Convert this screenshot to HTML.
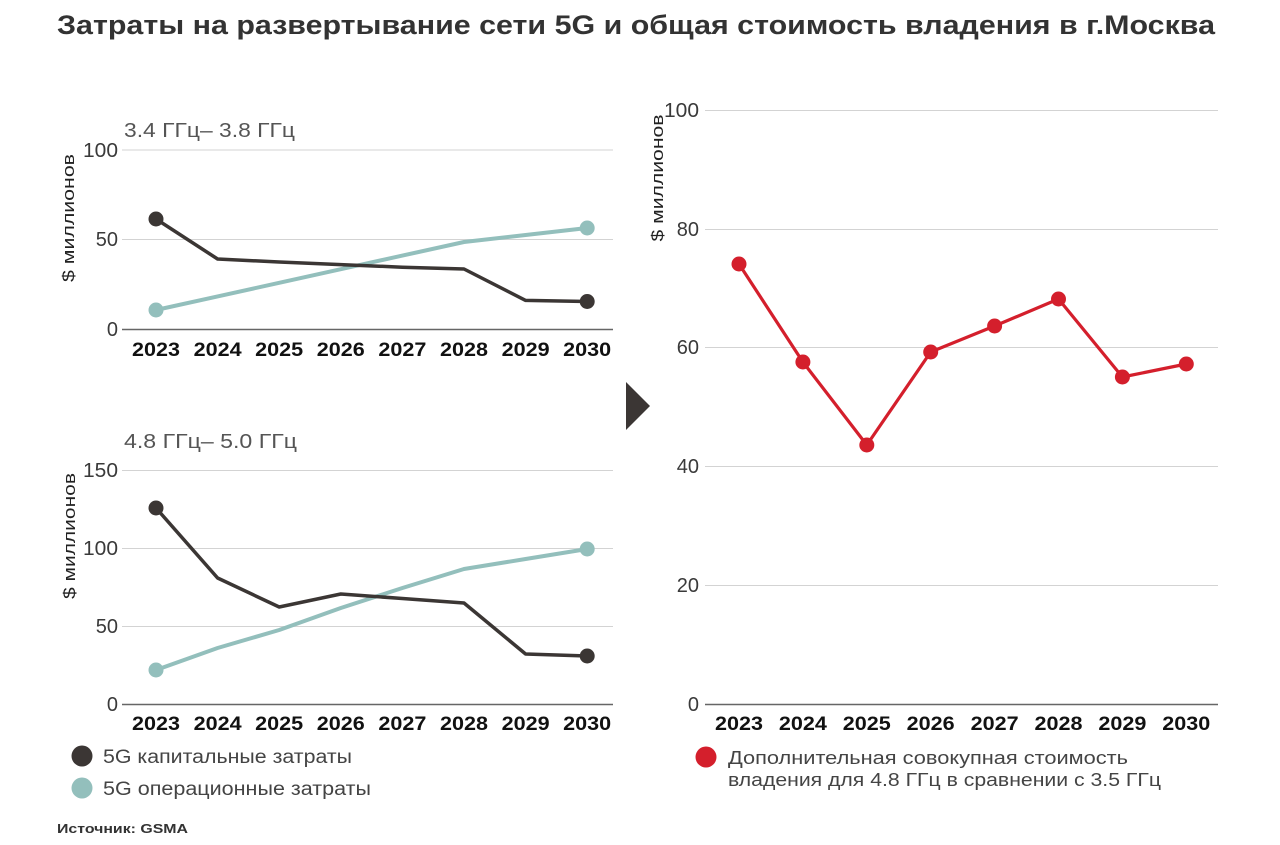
<!DOCTYPE html>
<html>
<head>
<meta charset="utf-8">
<style>
  html,body{margin:0;padding:0;background:#fff;}
  svg{display:block;}
  text{font-family:"Liberation Sans","Noto Sans CJK SC",sans-serif;}
</style>
</head>
<body>
<svg width="1280" height="845" viewBox="0 0 1280 845" xmlns="http://www.w3.org/2000/svg">
  <rect width="1280" height="845" fill="#fff"/>

  <!-- Title -->
  <text x="57" y="34" font-size="27" font-weight="bold" fill="#333" textLength="1158" lengthAdjust="spacingAndGlyphs">Затраты на развертывание сети 5G и общая стоимость владения в г.Москва</text>

  <!-- ============ TOP LEFT CHART ============ -->
  <text x="124" y="137" font-size="20" fill="#555" textLength="171" lengthAdjust="spacingAndGlyphs">3.4 ГГц– 3.8 ГГц</text>
  <g stroke="#d3d3d3" stroke-width="1">
    <line x1="122" y1="150" x2="613" y2="150"/>
    <line x1="122" y1="239.5" x2="613" y2="239.5"/>
  </g>
  <line x1="122" y1="329.5" x2="613" y2="329.5" stroke="#666" stroke-width="1.5"/>
  <g font-size="20" fill="#3a3a3a" text-anchor="end">
    <text x="118" y="157" textLength="35" lengthAdjust="spacingAndGlyphs">100</text>
    <text x="118" y="246">50</text>
    <text x="118" y="336">0</text>
  </g>
  <text transform="translate(74,218) rotate(-90)" font-size="17" fill="#222" text-anchor="middle" textLength="128" lengthAdjust="spacingAndGlyphs">$ миллионов</text>
  <g font-size="19" font-weight="bold" fill="#111" text-anchor="middle">
    <text x="156" y="356" textLength="48" lengthAdjust="spacingAndGlyphs">2023</text>
    <text x="217.6" y="356" textLength="48" lengthAdjust="spacingAndGlyphs">2024</text>
    <text x="279.2" y="356" textLength="48" lengthAdjust="spacingAndGlyphs">2025</text>
    <text x="340.8" y="356" textLength="48" lengthAdjust="spacingAndGlyphs">2026</text>
    <text x="402.4" y="356" textLength="48" lengthAdjust="spacingAndGlyphs">2027</text>
    <text x="464" y="356" textLength="48" lengthAdjust="spacingAndGlyphs">2028</text>
    <text x="525.6" y="356" textLength="48" lengthAdjust="spacingAndGlyphs">2029</text>
    <text x="587.2" y="356" textLength="48" lengthAdjust="spacingAndGlyphs">2030</text>
  </g>
  <polyline fill="none" stroke="#93bfbc" stroke-width="4" stroke-linejoin="round"
    points="156,310 217.6,296.4 279.2,282.8 340.8,269.2 402.4,255.6 464,242 525.6,235 587.2,228"/>
  <circle cx="156" cy="310" r="7.5" fill="#93bfbc"/>
  <circle cx="587.2" cy="228" r="7.5" fill="#93bfbc"/>
  <polyline fill="none" stroke="#3b3634" stroke-width="3.5" stroke-linejoin="round"
    points="156,219 217.6,259 279.2,262 340.8,264.6 402.4,267.2 464,269 525.6,300.4 587.2,301.5"/>
  <circle cx="156" cy="219" r="7.5" fill="#3b3634"/>
  <circle cx="587.2" cy="301.5" r="7.5" fill="#3b3634"/>

  <!-- ============ BOTTOM LEFT CHART ============ -->
  <text x="124" y="448" font-size="20" fill="#555" textLength="173" lengthAdjust="spacingAndGlyphs">4.8 ГГц– 5.0 ГГц</text>
  <g stroke="#d3d3d3" stroke-width="1">
    <line x1="122" y1="470.5" x2="613" y2="470.5"/>
    <line x1="122" y1="548.5" x2="613" y2="548.5"/>
    <line x1="122" y1="626.5" x2="613" y2="626.5"/>
  </g>
  <line x1="122" y1="704.5" x2="613" y2="704.5" stroke="#666" stroke-width="1.5"/>
  <g font-size="20" fill="#3a3a3a" text-anchor="end">
    <text x="118" y="477" textLength="35" lengthAdjust="spacingAndGlyphs">150</text>
    <text x="118" y="555" textLength="35" lengthAdjust="spacingAndGlyphs">100</text>
    <text x="118" y="633">50</text>
    <text x="118" y="711">0</text>
  </g>
  <text transform="translate(75,536) rotate(-90)" font-size="17" fill="#222" text-anchor="middle" textLength="126" lengthAdjust="spacingAndGlyphs">$ миллионов</text>
  <g font-size="19" font-weight="bold" fill="#111" text-anchor="middle">
    <text x="156" y="730" textLength="48" lengthAdjust="spacingAndGlyphs">2023</text>
    <text x="217.6" y="730" textLength="48" lengthAdjust="spacingAndGlyphs">2024</text>
    <text x="279.2" y="730" textLength="48" lengthAdjust="spacingAndGlyphs">2025</text>
    <text x="340.8" y="730" textLength="48" lengthAdjust="spacingAndGlyphs">2026</text>
    <text x="402.4" y="730" textLength="48" lengthAdjust="spacingAndGlyphs">2027</text>
    <text x="464" y="730" textLength="48" lengthAdjust="spacingAndGlyphs">2028</text>
    <text x="525.6" y="730" textLength="48" lengthAdjust="spacingAndGlyphs">2029</text>
    <text x="587.2" y="730" textLength="48" lengthAdjust="spacingAndGlyphs">2030</text>
  </g>
  <polyline fill="none" stroke="#93bfbc" stroke-width="4" stroke-linejoin="round"
    points="156,670 217.6,648 279.2,630 340.8,608 402.4,588 464,569 525.6,559 587.2,549"/>
  <circle cx="156" cy="670" r="7.5" fill="#93bfbc"/>
  <circle cx="587.2" cy="549" r="7.5" fill="#93bfbc"/>
  <polyline fill="none" stroke="#3b3634" stroke-width="3.5" stroke-linejoin="round"
    points="156,508 217.6,578 279.2,607 340.8,594 402.4,598.5 464,603 525.6,654 587.2,656"/>
  <circle cx="156" cy="508" r="7.5" fill="#3b3634"/>
  <circle cx="587.2" cy="656" r="7.5" fill="#3b3634"/>

  <!-- Left legend -->
  <circle cx="82" cy="756" r="10.5" fill="#3b3634"/>
  <text x="103" y="763" font-size="19" fill="#444" textLength="249" lengthAdjust="spacingAndGlyphs">5G капитальные затраты</text>
  <circle cx="82" cy="788" r="10.5" fill="#93bfbc"/>
  <text x="103" y="795" font-size="19" fill="#444" textLength="268" lengthAdjust="spacingAndGlyphs">5G операционные затраты</text>

  <text x="57" y="833" font-size="13" font-weight="bold" fill="#333" textLength="131" lengthAdjust="spacingAndGlyphs">Источник: GSMA</text>

  <!-- Arrow -->
  <polygon points="626,382 650,406 626,430" fill="#3b3634"/>

  <!-- ============ RIGHT CHART ============ -->
  <g stroke="#d3d3d3" stroke-width="1">
    <line x1="705" y1="110.5" x2="1218" y2="110.5"/>
    <line x1="705" y1="229.5" x2="1218" y2="229.5"/>
    <line x1="705" y1="347.5" x2="1218" y2="347.5"/>
    <line x1="705" y1="466.5" x2="1218" y2="466.5"/>
    <line x1="705" y1="585.5" x2="1218" y2="585.5"/>
  </g>
  <line x1="705" y1="704.5" x2="1218" y2="704.5" stroke="#666" stroke-width="1.5"/>
  <g font-size="20" fill="#3a3a3a" text-anchor="end">
    <text x="699" y="117" textLength="35" lengthAdjust="spacingAndGlyphs">100</text>
    <text x="699" y="236">80</text>
    <text x="699" y="354">60</text>
    <text x="699" y="473">40</text>
    <text x="699" y="592">20</text>
    <text x="699" y="711">0</text>
  </g>
  <text transform="translate(663,178) rotate(-90)" font-size="17" fill="#222" text-anchor="middle" textLength="127" lengthAdjust="spacingAndGlyphs">$ миллионов</text>
  <g font-size="19" font-weight="bold" fill="#111" text-anchor="middle">
    <text x="739" y="730" textLength="48" lengthAdjust="spacingAndGlyphs">2023</text>
    <text x="802.9" y="730" textLength="48" lengthAdjust="spacingAndGlyphs">2024</text>
    <text x="866.8" y="730" textLength="48" lengthAdjust="spacingAndGlyphs">2025</text>
    <text x="930.7" y="730" textLength="48" lengthAdjust="spacingAndGlyphs">2026</text>
    <text x="994.6" y="730" textLength="48" lengthAdjust="spacingAndGlyphs">2027</text>
    <text x="1058.5" y="730" textLength="48" lengthAdjust="spacingAndGlyphs">2028</text>
    <text x="1122.4" y="730" textLength="48" lengthAdjust="spacingAndGlyphs">2029</text>
    <text x="1186.3" y="730" textLength="48" lengthAdjust="spacingAndGlyphs">2030</text>
  </g>
  <polyline fill="none" stroke="#d41f2c" stroke-width="3.2" stroke-linejoin="round"
    points="739,264 802.9,362 866.8,445 930.7,352 994.6,326 1058.5,299 1122.4,377 1186.3,364"/>
  <g fill="#d41f2c">
    <circle cx="739" cy="264" r="7.5"/>
    <circle cx="802.9" cy="362" r="7.5"/>
    <circle cx="866.8" cy="445" r="7.5"/>
    <circle cx="930.7" cy="352" r="7.5"/>
    <circle cx="994.6" cy="326" r="7.5"/>
    <circle cx="1058.5" cy="299" r="7.5"/>
    <circle cx="1122.4" cy="377" r="7.5"/>
    <circle cx="1186.3" cy="364" r="7.5"/>
  </g>

  <!-- Right legend -->
  <circle cx="706" cy="757" r="10.5" fill="#d41f2c"/>
  <text x="728" y="764" font-size="18" fill="#444" textLength="400" lengthAdjust="spacingAndGlyphs">Дополнительная совокупная стоимость</text>
  <text x="728" y="786" font-size="18" fill="#444" textLength="433" lengthAdjust="spacingAndGlyphs">владения для 4.8 ГГц в сравнении с 3.5 ГГц</text>
</svg>
</body>
</html>
